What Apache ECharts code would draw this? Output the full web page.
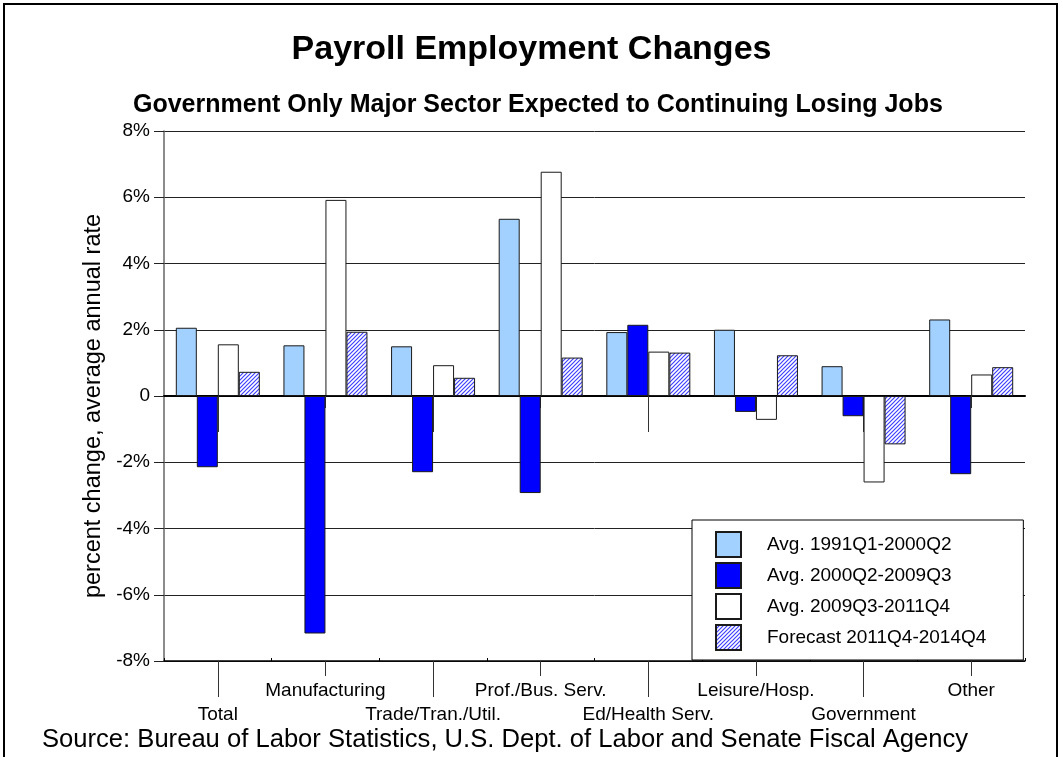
<!DOCTYPE html>
<html>
<head>
<meta charset="utf-8">
<script src="https://cdn.jsdelivr.net/npm/echarts@6/dist/echarts.min.js"></script>
<style>
  html, body { margin: 0; padding: 0; background: #fff; }
  #chart { width: 1063px; height: 757px; }
</style>
</head>
<body>
<div id="chart"></div>
<script>
// Sectors along the category axis
const categories = ['Total', 'Manufacturing', 'Trade/Tran./Util.', 'Prof./Bus. Serv.',
  'Ed/Health Serv.', 'Leisure/Hosp.', 'Government', 'Other'];

// Average annual percent change by period
const avg1991to2000 = [2.06, 1.53, 1.50, 5.35, 1.93, 2.00, 0.90, 2.31];
const avg2000to2009 = [-2.15, -7.17, -2.30, -2.93, 2.15, -0.48, -0.61, -2.36];
const avg2009to2011 = [1.56, 5.92, 0.93, 6.77, 1.34, -0.72, -2.61, 0.65];
const forecast2011to2014 = [0.73, 1.94, 0.55, 1.16, 1.31, 1.23, -1.46, 0.87];

const seriesNames = ['Avg. 1991Q1-2000Q2', 'Avg. 2000Q2-2009Q3', 'Avg. 2009Q3-2011Q4', 'Forecast 2011Q4-2014Q4'];

// Value axis range and step
const yMin = -8, yMax = 8, yStep = 2;

const FONT = '"Liberation Sans", Arial, Helvetica, sans-serif';

// Diagonal blue hatching used by the forecast bars
function hatchPattern() {
  const s = 4;
  const c = document.createElement('canvas');
  c.width = s; c.height = s;
  const g = c.getContext('2d');
  g.fillStyle = '#ffffff';
  g.fillRect(0, 0, s, s);
  g.strokeStyle = '#4040ff';
  g.lineWidth = 1.2;
  g.beginPath();
  g.moveTo(0, s); g.lineTo(s, 0);
  g.moveTo(-1, 1); g.lineTo(1, -1);
  g.moveTo(s - 1, s + 1); g.lineTo(s + 1, s - 1);
  g.stroke();
  return { image: c, repeat: 'repeat' };
}

const barStyle = (fill) => ({ color: fill, borderColor: '#1a1a1a', borderWidth: 1 });
const fills = ['#A3D1FF', '#0000FF', '#FFFFFF', hatchPattern()];
const values = [avg1991to2000, avg2000to2009, avg2009to2011, forecast2011to2014];

const even = (i) => i % 2 === 0;
const odd = (i) => i % 2 === 1;
const baseCat = { type: 'category', data: categories, position: 'bottom' };

const chart = echarts.init(document.getElementById('chart'), null, { renderer: 'canvas' });
chart.setOption({
  animation: false,
  backgroundColor: '#ffffff',
  textStyle: { fontFamily: FONT },
  title: [
    { text: 'Payroll Employment Changes', left: 'center', top: 28,
      textStyle: { fontFamily: FONT, fontSize: 34, fontWeight: 'bold', color: '#000' } },
    { text: 'Government Only Major Sector Expected to Continuing Losing Jobs', left: 128, top: 88,
      textStyle: { fontFamily: FONT, fontSize: 25, fontWeight: 'bold', color: '#000' } },
    { text: 'Source: Bureau of Labor Statistics, U.S. Dept. of Labor and Senate Fiscal Agency', left: 37, top: 722,
      textStyle: { fontFamily: FONT, fontSize: 25.6, fontWeight: 'normal', color: '#000' } }
  ],
  graphic: [
    { type: 'rect', shape: { x: 4, y: 4, width: 1053, height: 780 },
      style: { fill: 'none', stroke: '#000', lineWidth: 2 }, silent: true }
  ],
  legend: {
    orient: 'vertical', left: 692, bottom: 97,
    backgroundColor: '#fff', borderColor: '#000', borderWidth: 1,
    padding: [11, 37, 9, 23],
    itemWidth: 25, itemHeight: 25, itemGap: 4,
    icon: 'rect',
    textStyle: { fontFamily: FONT, fontSize: 19, color: '#000', padding: [0, 0, 0, 21] },
    data: seriesNames
  },
  grid: { left: 164, right: 38, top: 131, bottom: 96, containLabel: false },
  xAxis: [
    // bottom axis: upper label row and its short leader ticks
    Object.assign({}, baseCat, {
      axisLine: { onZero: false, lineStyle: { color: '#000', width: 1.5 } },
      axisTick: { show: true, alignWithLabel: true, interval: (i) => odd(i), length: 15,
        lineStyle: { color: '#333', width: 1 } },
      axisLabel: { interval: (i) => odd(i), margin: 20, fontFamily: FONT, fontSize: 19, color: '#000' },
      splitLine: { show: false }
    }),
    // bottom axis: lower label row and its long leader ticks
    Object.assign({}, baseCat, {
      axisLine: { onZero: false, show: false },
      axisTick: { show: true, alignWithLabel: true, interval: (i) => even(i), length: 36,
        lineStyle: { color: '#333', width: 1 } },
      axisLabel: { interval: (i) => even(i), margin: 44, fontFamily: FONT, fontSize: 19, color: '#000' },
      splitLine: { show: false }
    }),
    // small boundary ticks along the bottom axis
    Object.assign({}, baseCat, {
      axisLine: { onZero: false, show: false },
      axisTick: { show: true, inside: true, length: 3, interval: 0, lineStyle: { color: '#000' } },
      axisLabel: { show: false },
      splitLine: { show: false }
    }),
    // zero line with long downward ticks
    Object.assign({}, baseCat, {
      axisLine: { onZero: true, onZeroAxisIndex: 0, lineStyle: { color: '#000', width: 2 } },
      axisTick: { show: true, alignWithLabel: true, interval: (i) => even(i), length: 36,
        lineStyle: { color: '#333', width: 1 } },
      axisLabel: { show: false },
      splitLine: { show: false }
    }),
    // zero line short downward ticks
    Object.assign({}, baseCat, {
      axisLine: { onZero: true, onZeroAxisIndex: 0, show: false },
      axisTick: { show: true, alignWithLabel: true, interval: (i) => odd(i), length: 12,
        lineStyle: { color: '#333', width: 1 } },
      axisLabel: { show: false },
      splitLine: { show: false }
    })
  ],
  yAxis: {
    type: 'value', min: yMin, max: yMax, interval: yStep,
    name: 'percent change, average annual rate',
    nameLocation: 'middle', nameGap: 53, nameRotate: 90,
    nameTextStyle: { fontFamily: FONT, fontSize: 23.5, color: '#000', padding: [0, 20, 0, 0] },
    axisLine: { show: true, onZero: false, lineStyle: { color: '#666', width: 1.5 } },
    axisTick: { show: true, length: 10, lineStyle: { color: '#222' } },
    axisLabel: { margin: 14, fontFamily: FONT, fontSize: 19, color: '#000',
      formatter: (v) => (v === 0 ? '0' : v + '%') },
    splitLine: { show: true, lineStyle: { color: '#222', width: 1 } }
  },
  series: seriesNames.map((name, k) => ({
    name, type: 'bar', xAxisIndex: 0,
    data: values[k],
    barWidth: 21, barGap: '0%',
    itemStyle: barStyle(fills[k])
  }))
});
</script>
</body>
</html>
